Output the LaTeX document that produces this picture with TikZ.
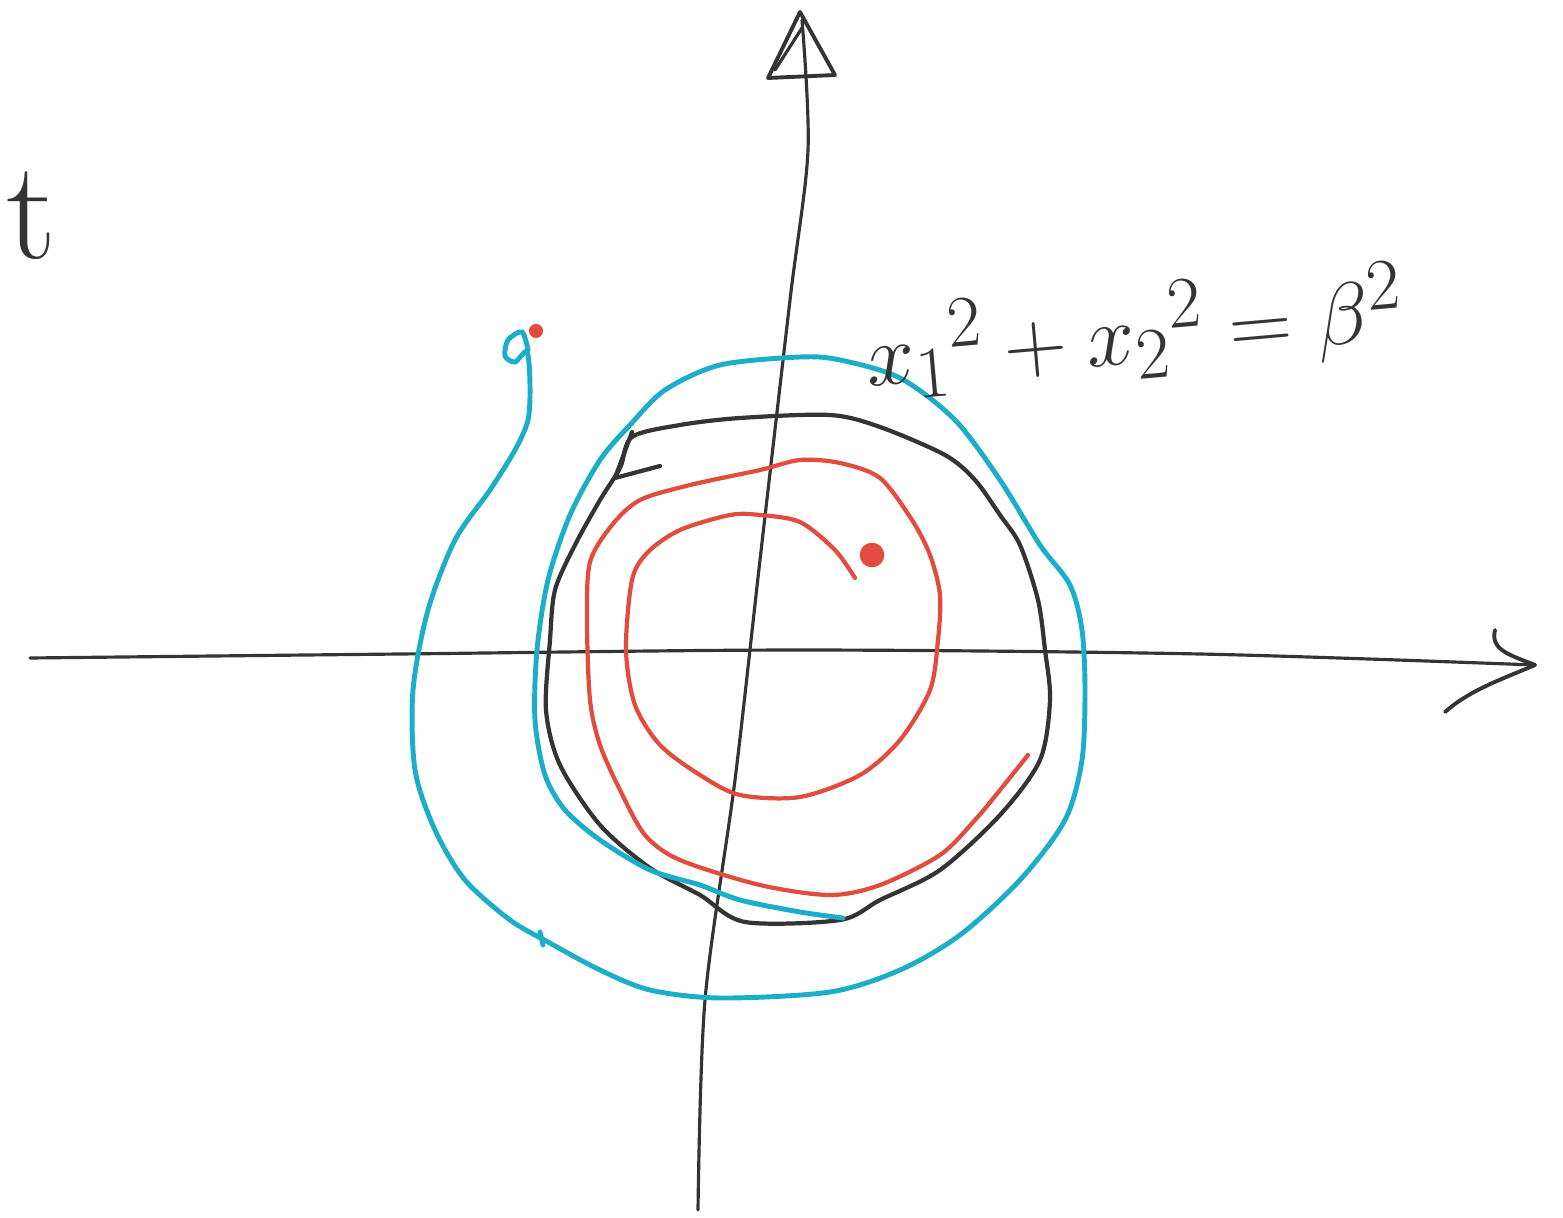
\documentclass[tikz,border=0pt]{standalone}
\usepackage{tikz}
\definecolor{inkred}{RGB}{226,76,62}
\definecolor{inkcyan}{RGB}{28,174,200}
\definecolor{inkgray}{RGB}{52,52,52}
\tikzset{
  axis/.style={
    draw=inkgray,
    line width=0.9pt,
    line cap=round,
    line join=round,
  },
  cycle/.style={
    draw=inkgray,
    line width=1.2pt,
    line cap=round,
    line join=round,
  },
  inward/.style={
    draw=inkred,
    line width=1.2pt,
    line cap=round,
  },
  outward/.style={
    draw=inkcyan,
    line width=1.4pt,
    line cap=round,
  },
  point/.style={
    circle,
    fill=inkred,
    inner sep=0pt,
    minimum size=7pt,
  }
}

\begin{document}
\begin{tikzpicture}[x=0.01cm, y=-0.01cm]
  \useasboundingbox (0, 0) rectangle (1563, 1218);

  % axes
  \draw[axis] plot[smooth] coordinates {(30, 658) (400, 654) (800, 650) (1200, 654) (1535, 665)};
  \draw[axis, line width=1.1pt] (1495, 630) .. controls (1490, 650) and (1510, 655) .. (1535, 665)
    .. controls (1500, 680) and (1470, 690) .. (1445, 712);
  \draw[axis] plot[smooth] coordinates {(698, 1210) (705, 1000) (735, 780) (760, 560) (790, 300) (808, 150) (802, 20)};
  \draw[axis, line width=1.1pt] (768, 78) -- (800, 12) -- (835, 75) -- cycle;
  \draw[axis] (775, 70) -- (802, 28);

  % limit cycle
  \draw[cycle] plot[smooth cycle, tension=0.5] coordinates {
    (632, 437) (680, 425) (740, 418) (830, 415) (880, 427) (945, 455)
    (975, 480) (1000, 515) (1020, 545) (1038, 600) (1045, 650) (1050, 700)
    (1040, 760) (1000, 815) (940, 870) (880, 900) (840, 920) (745, 922)
    (700, 895) (650, 868) (600, 825) (560, 765) (546, 710) (550, 640)
    (555, 590) (575, 545) (600, 500) (620, 468)};
  \draw[cycle] (632, 432) -- (615, 478) -- (660, 466);

  % trajectory from inside
  \draw[inward] plot[smooth, tension=0.5] coordinates {
    (855, 578) (835, 550) (800, 522) (760, 515) (730, 515) (680, 530)
    (648, 552) (632, 580) (626, 650) (635, 705) (660, 745) (700, 775)
    (740, 795) (800, 797) (860, 775) (900, 740) (930, 690) (938, 640)
    (940, 595) (930, 555) (912, 520) (880, 478) (840, 463) (800, 460)
    (760, 470) (690, 485) (640, 500) (612, 525) (590, 562) (587, 620)
    (590, 700) (600, 745) (620, 790) (645, 835) (680, 860) (760, 885)
    (830, 895) (880, 885) (940, 855) (975, 820) (1000, 790) (1028, 755)};
  \node[point] (eq) at (872, 555) {};

  % trajectory from outside
  \draw[outward] plot[smooth, tension=0.5] coordinates {
    (528, 350) (522, 332) (508, 340) (505, 356) (515, 362) (527, 352)
    (530, 385) (528, 420) (515, 450) (490, 490) (455, 540) (428, 610)
    (413, 690) (415, 770) (435, 830) (465, 880) (510, 920) (548, 942)
    (600, 970) (650, 990) (720, 998) (830, 992) (900, 970) (960, 935)
    (1020, 880) (1065, 820) (1082, 760) (1085, 690) (1082, 630) (1070, 585)
    (1040, 545) (1000, 480) (955, 420) (900, 378) (840, 360) (800, 357)
    (720, 365) (665, 390) (630, 425) (600, 460) (570, 515) (548, 580)
    (537, 650) (535, 720) (545, 775) (565, 810) (600, 840) (650, 870)
    (700, 885) (740, 900) (800, 912) (843, 918)};
  \draw[outward] (540, 932) -- (543, 945);
  \node[circle, fill=inkred, inner sep=0pt, minimum size=4pt] (start) at (536, 331) {};

  % labels
  \node[inkgray, rotate=5, font=\fontsize{31}{38}\selectfont] (circ) at (1135, 332)
    {${x_1}^2 + {x_2}^2 = \beta^2$};
  \node[inkgray, font=\fontsize{40}{48}\selectfont, anchor=base west, inner sep=1pt] (word) at (2, 258) {t};
\end{tikzpicture}
\end{document}
